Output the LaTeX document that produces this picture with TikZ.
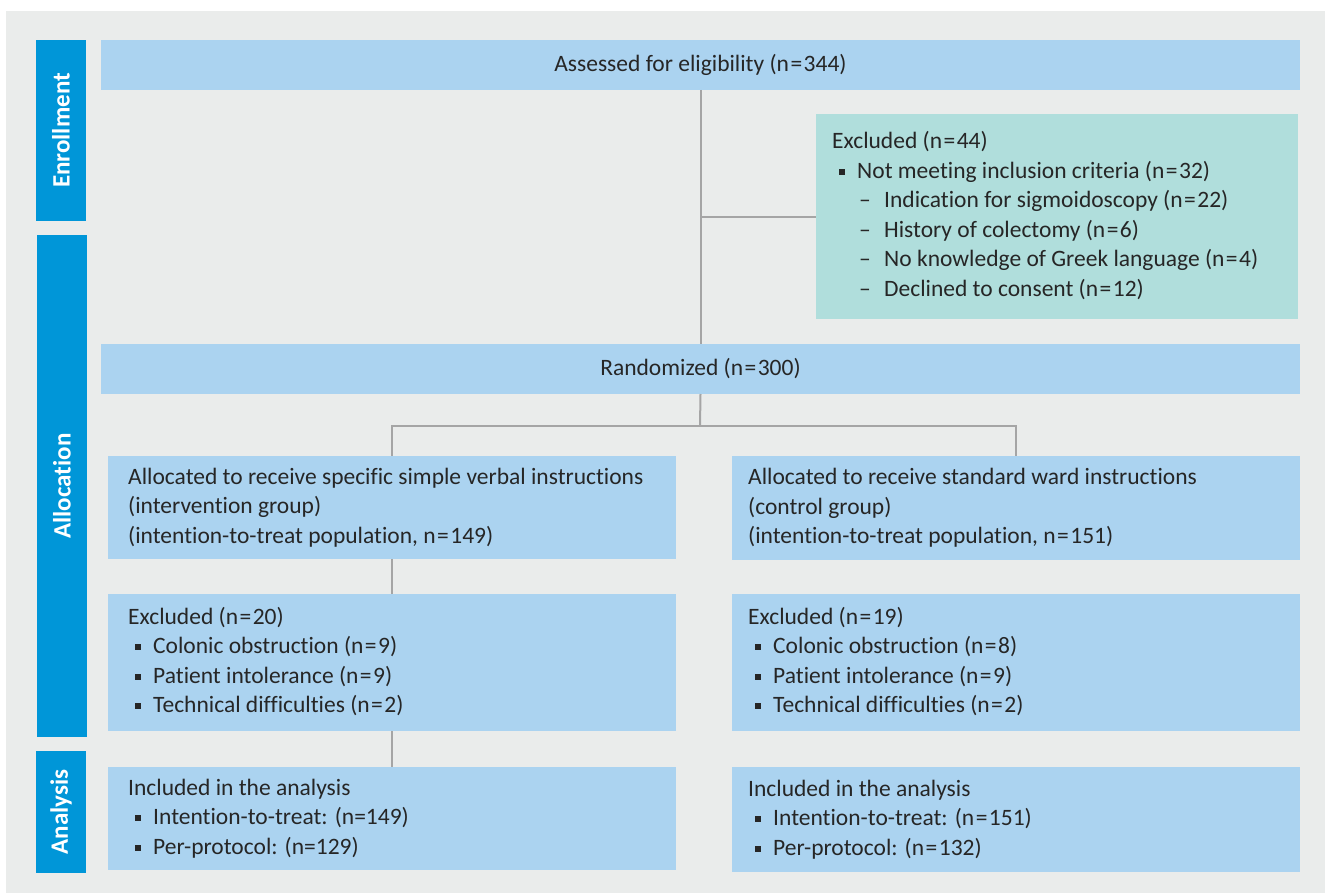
\documentclass[tikz,border=0pt]{standalone}
\usepackage{fontspec}
\setmainfont{Carlito}[Ligatures=NoCommon]
\definecolor{bgc}{HTML}{EAECEB}
\definecolor{boxc}{HTML}{ABD3F0}
\definecolor{tealc}{HTML}{B0DEDC}
\definecolor{stripc}{HTML}{0096D8}
\definecolor{linec}{HTML}{A5A5A5}
\definecolor{txtc}{HTML}{262626}
\newcommand{\bul}{\makebox[25pt][l]{\hspace{7pt}\raisebox{3.5pt}{\rule{6pt}{6pt}}}}
\newcommand{\subd}{\makebox[52pt][l]{\hspace{27pt}–}}
\newcommand{\eq}{\kern1.5pt=\kern1.5pt}
\begin{document}
\begin{tikzpicture}[x=1pt,y=-1pt,
  every node/.style={font=\fontsize{23.5}{29.5}\selectfont, text=txtc},
  bx/.style={fill=boxc, draw=none, anchor=north west, inner sep=0pt, outer sep=0pt},
  tealbox/.style={bx, fill=tealc},
  txt/.style={anchor=west, align=left, inner sep=0pt},
  strip/.style={fill=stripc, anchor=north west, inner sep=0pt, outer sep=0pt},
  striplabel/.style={text=white, font=\fontsize{25}{28}\selectfont\bfseries, rotate=90},
  conn/.style={draw=linec, line width=2pt}]
\useasboundingbox (0,0) rectangle (1325,893);
\fill[bgc] (6,11) rectangle (1325,893);
% strips
\node[strip, minimum width=50pt, minimum height=181pt] (s1) at (36,40) {};
\node[strip, minimum width=50pt, minimum height=502pt] (s2) at (37,235) {};
\node[strip, minimum width=50pt, minimum height=122pt] (s3) at (36,751) {};
\node[striplabel] (l1) at (s1.center) {Enrollment};
\node[striplabel] (l2) at (s2.center) {Allocation};
\node[striplabel] (l3) at (s3.center) {Analysis};
% boxes
\node[bx, minimum width=1199pt, minimum height=50pt] (assess) at (101,40) {Assessed for eligibility (n\eq344)};
\node[tealbox, minimum width=482pt, minimum height=205pt] (excl) at (816,114) {};
\node[txt] (exclt) at ([xshift=16pt,yshift=1pt]excl.west) {Excluded (n\eq44)\\
\bul Not meeting inclusion criteria (n\eq32)\\
\subd Indication for sigmoidoscopy (n\eq22)\\
\subd History of colectomy (n\eq6)\\
\subd No knowledge of Greek language (n\eq4)\\
\subd Declined to consent (n\eq12)};
\node[bx, minimum width=1199pt, minimum height=50pt] (rand) at (101,344) {Randomized (n\eq300)};
\node[bx, minimum width=568pt, minimum height=103pt] (allocL) at (108,456) {};
\node[txt] (allocLt) at ([xshift=20pt]allocL.west) {Allocated to receive specific simple verbal instructions\\
(intervention group)\\
(intention-to-treat population, n\eq149)};
\node[bx, minimum width=568pt, minimum height=104pt] (allocR) at (732,456) {};
\node[txt] (allocRt) at ([xshift=16pt]allocR.west) {Allocated to receive standard ward instructions\\
(control group)\\
(intention-to-treat population, n\eq151)};
\node[bx, minimum width=568pt, minimum height=137pt] (exclL) at (108,594) {};
\node[txt] (exclLt) at ([xshift=20pt,yshift=1pt]exclL.west) {Excluded (n\eq20)\\
\bul Colonic obstruction (n\eq9)\\
\bul Patient intolerance (n\eq9)\\
\bul Technical difficulties (n\eq2)};
\node[bx, minimum width=568pt, minimum height=137pt] (exclR) at (732,594) {};
\node[txt] (exclRt) at ([xshift=16pt,yshift=1pt]exclR.west) {Excluded (n\eq19)\\
\bul Colonic obstruction (n\eq8)\\
\bul Patient intolerance (n\eq9)\\
\bul Technical difficulties (n\eq2)};
\node[bx, minimum width=568pt, minimum height=103pt] (inclL) at (108,767) {};
\node[txt] (inclLt) at ([xshift=20pt]inclL.west) {Included in the analysis\\
\bul Intention-to-treat: (n=149)\\
\bul Per-protocol: (n=129)};
\node[bx, minimum width=568pt, minimum height=105pt] (inclR) at (732,767) {};
\node[txt] (inclRt) at ([xshift=16pt]inclR.west) {Included in the analysis\\
\bul Intention-to-treat: (n\eq151)\\
\bul Per-protocol: (n\eq132)};
% connectors
\coordinate (jx) at (700,217);
\coordinate (jr) at (700,426);
\draw[conn] (assess.south) -- (rand.north);
\draw[conn] (jx) -- (excl.west |- jx);
\draw[conn] (rand.south) -- (jr);
\draw[conn] (jr) -| (allocL.north);
\draw[conn] (jr) -| (allocR.north);
\draw[conn] (allocL.south) -- (exclL.north);
\draw[conn] (exclL.south) -- (inclL.north);
\end{tikzpicture}
\end{document}
